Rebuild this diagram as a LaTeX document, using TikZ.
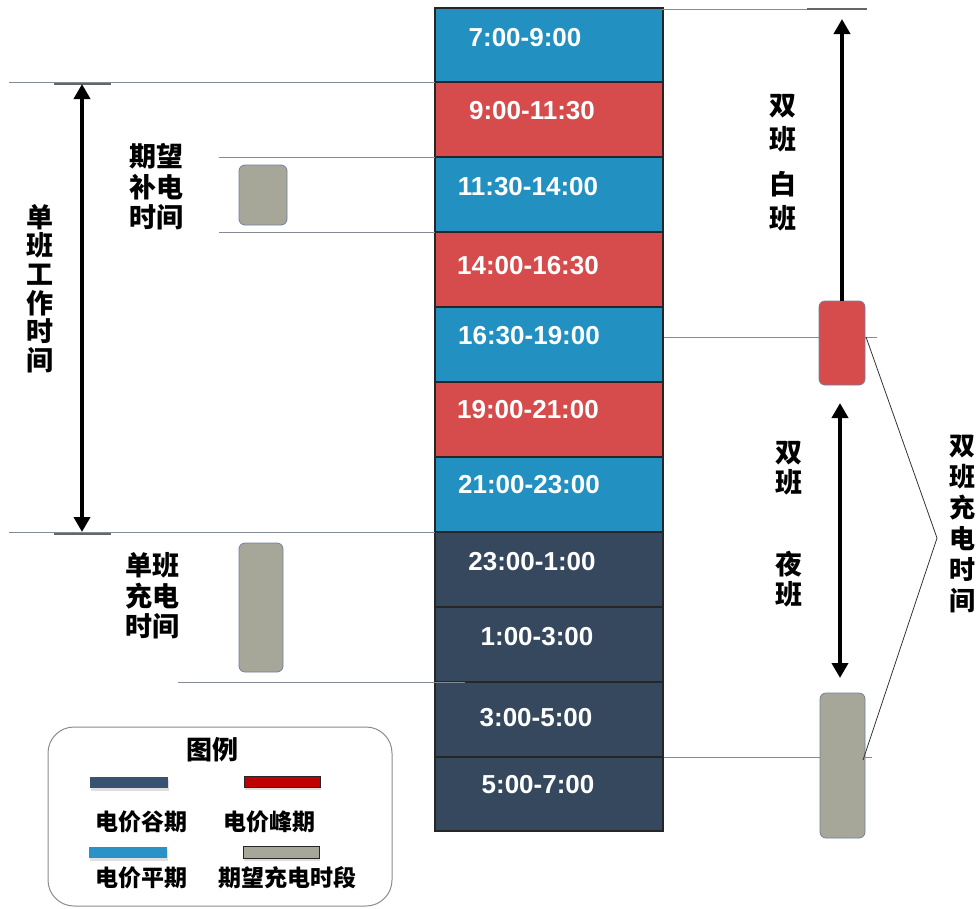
\documentclass[tikz,border=0pt]{standalone}
\usepackage{fontspec}
\setmainfont{Liberation Sans}
\newfontfamily\cjk{Noto Sans CJK SC}
\usetikzlibrary{arrows.meta,shadows}
\definecolor{blueC}{HTML}{2290C0}
\definecolor{redC}{HTML}{D64B4B}
\definecolor{darkC}{HTML}{35485E}
\definecolor{grayC}{HTML}{A6A799}
\definecolor{boxline}{HTML}{7080A0}
\definecolor{lineC}{HTML}{858B93}
\definecolor{legDark}{HTML}{3A5272}
\definecolor{legRed}{HTML}{C00000}
\definecolor{legBlue}{HTML}{2A92C6}
\begin{document}
\begin{tikzpicture}[x=1pt,y=-1pt,
  rowbox/.style={draw=black!85,line width=1.2pt,minimum width=228pt,inner sep=0pt,outer sep=0pt},
  timetxt/.style={text=white,font=\bfseries\fontsize{26}{30}\selectfont,inner sep=0pt},
  cjkstack/.style={align=center,inner sep=0pt,font=\cjk\bfseries\fontsize{27}{#1}\selectfont},
  cjkstack/.default=30.5,
  legtxt/.style={inner sep=0pt,font=\cjk\bfseries\fontsize{23}{27}\selectfont},
  thinline/.style={draw=lineC,line width=1pt},
  tickline/.style={draw=gray!80!black,line width=2pt},
  gbox/.style={draw=boxline,fill=grayC,line width=0.8pt,rounded corners=6pt,inner sep=0pt,outer sep=0pt},
  bigarrow/.style={line width=4pt,black},
  tipA/.tip={Triangle[length=15pt,width=16pt]},
  legbar/.style={inner sep=0pt,outer sep=0pt,minimum height=11pt,drop shadow={opacity=0.25,shadow xshift=1pt,shadow yshift=-2.5pt}}
]
\useasboundingbox (0,0) rectangle (977,908);

% ---------- thin guide lines (behind) ----------
\coordinate (a1) at (9,82);
\coordinate (a4) at (9,532);
\coordinate (a2) at (219,157);
\coordinate (a3) at (219,232);
\coordinate (a5) at (178,682);
\coordinate (a5e) at (465,682);
\coordinate (top1) at (662,9);
\coordinate (top2) at (807,9);
\coordinate (top3) at (867,9);
\coordinate (h1) at (663,337);
\coordinate (h1e) at (877,337);
\coordinate (h2) at (663,757);
\coordinate (h2e) at (872,757);
\coordinate (k1) at (54,84);
\coordinate (k1e) at (111,84);
\coordinate (k2) at (54,534);
\coordinate (k2e) at (111,534);

\draw[thinline] (h1) -- (h1e);
\draw[thinline] (h2) -- (h2e);

% ---------- time column ----------
\node[rowbox,fill=blueC,minimum height=74pt] (r1) at (549,45) {};
\node[rowbox,fill=redC,minimum height=75pt] (r2) at (549,119.5) {};
\node[rowbox,fill=blueC,minimum height=75pt] (r3) at (549,194.5) {};
\node[rowbox,fill=redC,minimum height=75pt] (r4) at (549,269.5) {};
\node[rowbox,fill=blueC,minimum height=75pt] (r5) at (549,344.5) {};
\node[rowbox,fill=redC,minimum height=75pt] (r6) at (549,419.5) {};
\node[rowbox,fill=blueC,minimum height=75pt] (r7) at (549,494.5) {};
\node[rowbox,fill=darkC,minimum height=75pt] (r8) at (549,569.5) {};
\node[rowbox,fill=darkC,minimum height=75pt] (r9) at (549,644.5) {};
\node[rowbox,fill=darkC,minimum height=75pt] (r10) at (549,719.5) {};
\node[rowbox,fill=darkC,minimum height=74pt] (r11) at (549,794) {};

\node[timetxt] (t1) at (525,38) {7:00-9:00};
\node[timetxt] (t2) at (532,111) {9:00-11:30};
\node[timetxt] (t3) at (528,187) {11:30-14:00};
\node[timetxt] (t4) at (528,266) {14:00-16:30};
\node[timetxt] (t5) at (529,336) {16:30-19:00};
\node[timetxt] (t6) at (528,410) {19:00-21:00};
\node[timetxt] (t7) at (529,485) {21:00-23:00};
\node[timetxt] (t8) at (532,562) {23:00-1:00};
\node[timetxt] (t9) at (537,637) {1:00-3:00};
\node[timetxt] (t10) at (536,718) {3:00-5:00};
\node[timetxt] (t11) at (538,785) {5:00-7:00};

% ---------- left guide lines ----------
\draw[thinline] (a1) -- (r2.north west);
\draw[thinline] (a2) -- (r3.north west);
\draw[thinline] (a3) -- (r4.north west);
\draw[thinline] (a4) -- (r8.north west);
\draw[thinline] (a5) -- (a5e);
\draw[tickline] (k1) -- (k1e);
\draw[tickline] (k2) -- (k2e);
\draw[thinline] (top1) -- (top3);
\draw[tickline,line width=1.5pt] (top2) -- (top3);

% ---------- left side ----------
\coordinate (la1) at (82,84);
\coordinate (la2) at (82,532);
\draw[bigarrow,tipA-tipA] (la1) -- (la2);
\node[cjkstack=28.6] (s1) at (40,288.5) {单\\班\\工\\作\\时\\间};
\node[cjkstack] (s2) at (156,187) {期望\\补电\\时间};
\node[gbox,minimum width=48pt,minimum height=60pt] (gb1) at (263,195) {};
\node[cjkstack] (s3) at (152,596) {单班\\充电\\时间};
\node[gbox,minimum width=44pt,minimum height=129pt] (gb2) at (261,607.5) {};

% ---------- right side ----------
\node[gbox,fill=redC,minimum width=46pt,minimum height=84pt] (rb) at (842,343) {};
\node[gbox,minimum width=45pt,minimum height=145pt] (gb3) at (842.5,765.5) {};
\coordinate (ra) at (842,19);
\draw[bigarrow,-tipA] (rb.north) -- (ra);
\coordinate (rd1) at (840,403);
\coordinate (rd2) at (840,678);
\draw[bigarrow,tipA-tipA] (rd1) -- (rd2);
\node[cjkstack=34] (s4) at (783,162.5) {双\\班\\[11pt]白\\班};
\node[cjkstack=30] (s5) at (789,524) {双\\班\\[52pt]夜\\班};
\coordinate (br1) at (866,337);
\coordinate (br2) at (937,538);
\coordinate (br3) at (863,760);
\draw[draw=black!80,line width=0.8pt] (br1) -- (br2) -- (br3);
\node[align=center,inner sep=0pt,font=\cjk\bfseries\fontsize{26}{31}\selectfont] (s6) at (962,523.5) {双\\班\\充\\电\\时\\间};

% ---------- legend ----------
\node[draw=gray!90,line width=1pt,rounded corners=26pt,minimum width=344pt,minimum height=179pt,inner sep=0pt] (leg) at (220,816.5) {};
\node[inner sep=0pt,font=\cjk\bfseries\fontsize{26}{30}\selectfont] (lt) at (212,750) {图例};
\node[legbar,fill=legDark,minimum width=78pt] (lb1) at (129,782.5) {};
\node[legbar,fill=legRed,draw=black!85,line width=0.8pt,minimum width=76pt] (lb2) at (282,782) {};
\node[legbar,fill=legBlue,minimum width=78pt] (lb3) at (128,852.5) {};
\node[legbar,fill=grayC,draw=black!85,line width=0.8pt,minimum width=76pt,minimum height=12pt] (lb4) at (281,852.5) {};
\node[legtxt] (l1) at (141,822) {电价谷期};
\node[legtxt] (l2) at (269,822) {电价峰期};
\node[legtxt] (l3) at (141,878) {电价平期};
\node[legtxt] (l4) at (287,878) {期望充电时段};
\end{tikzpicture}
\end{document}
